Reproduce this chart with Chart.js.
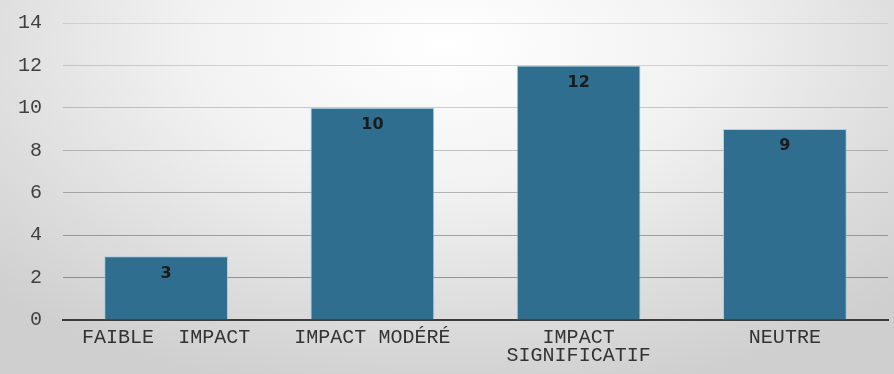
<!DOCTYPE html>
<html>
<head>
<meta charset="utf-8">
<script src="https://cdn.jsdelivr.net/npm/chart.js@4"></script>
<style>
  html, body { margin: 0; padding: 0; }
  body {
    width: 894px; height: 374px; overflow: hidden;
    background: radial-gradient(ellipse 70% 95% at 50% 12%, #ffffff 0%, #f2f2f2 40%, #dddddd 75%, #cfcfcf 100%);
  }
  #wrap { position: relative; width: 894px; height: 374px; }
</style>
</head>
<body>
<div id="wrap"><canvas id="myChart"></canvas></div>
<script>
// chart data
const categories = ['FAIBLE  IMPACT', 'IMPACT MODÉRÉ', ['IMPACT', 'SIGNIFICATIF'], 'NEUTRE'];
const counts = [3, 10, 12, 9];
const yTicks = [0, 2, 4, 6, 8, 10, 12, 14];

// draws the value inside the top of each bar
const barValues = {
    id: 'barValues',
    afterDatasetsDraw(chart) {
        const ctx = chart.ctx;
        const meta = chart.getDatasetMeta(0);
        ctx.save();
        ctx.font = 'bold 16px "DejaVu Sans"';
        ctx.fillStyle = '#1b1b1b';
        ctx.textAlign = 'center';
        ctx.textBaseline = 'middle';
        meta.data.forEach((bar, i) => {
            ctx.fillText(counts[i], bar.x, bar.y + 17);
        });
        ctx.restore();
    }
};

const ctx = document.getElementById('myChart').getContext('2d');
new Chart(ctx, {
    type: 'bar',
    data: {
        labels: categories,
        datasets: [{
            data: counts,
            backgroundColor: '#2f6e8f',
            borderColor: 'rgba(150,200,225,0.7)',
            borderWidth: 1,
            categoryPercentage: 1,
            barPercentage: 0.6
        }]
    },
    options: {
        responsive: true,
        maintainAspectRatio: false,
        animation: false,
        layout: { padding: { left: 0, right: 6, top: 23, bottom: 0 } },
        plugins: {
            legend: { display: false },
            tooltip: { enabled: false }
        },
        scales: {
            x: {
                grid: { display: false, drawTicks: false },
                border: { display: true, color: '#3c3c3c', width: 2 },
                ticks: {
                    color: '#333',
                    padding: 9,
                    maxRotation: 0,
                    autoSkip: false,
                    font: { family: '"Liberation Mono"', size: 20, lineHeight: 0.9 }
                },
                afterFit(scale) { scale.height = 54; }
            },
            y: {
                min: 0,
                max: 14,
                afterBuildTicks(scale) { scale.ticks = yTicks.map(v => ({ value: v })); },
                // gridlines fade toward the top; invisible tick marks give the label gap
                grid: {
                    color: (c) => 'rgba(0,0,0,' + (0.38 - 0.02 * (c.tick ? c.tick.value : 0)).toFixed(2) + ')',
                    lineWidth: 1,
                    drawTicks: true,
                    tickLength: 21,
                    tickColor: 'rgba(0,0,0,0)'
                },
                border: { display: false },
                ticks: {
                    color: '#404040',
                    padding: 0,
                    font: { family: '"Liberation Mono"', size: 20 }
                },
                afterFit(scale) { scale.width = 63; }
            }
        }
    },
    plugins: [barValues]
});
</script>
</body>
</html>
